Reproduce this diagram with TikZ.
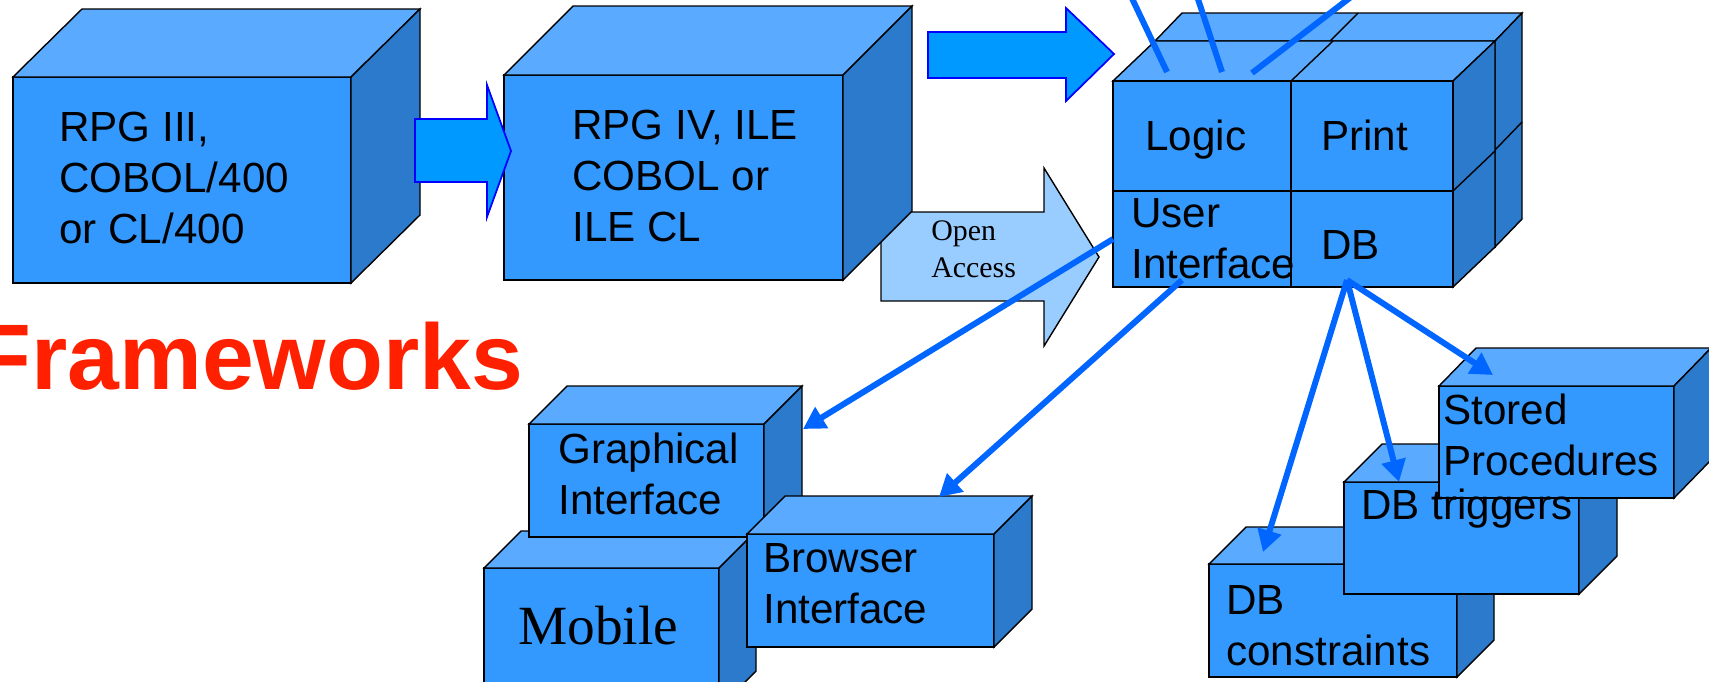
\documentclass[tikz,border=0pt]{standalone}
\usepackage{fontspec}
\setmainfont{Liberation Sans}
\newfontfamily\timesfont{Liberation Serif}
\usetikzlibrary{arrows.meta,calc}
\definecolor{frontblue}{RGB}{51,153,255}
\definecolor{topblue}{RGB}{90,170,255}
\definecolor{sideblue}{RGB}{43,122,204}
\definecolor{arrowfill}{RGB}{0,153,255}
\definecolor{wireblue}{RGB}{0,102,255}
\definecolor{openfill}{RGB}{153,204,255}
\definecolor{fwred}{RGB}{255,32,0}
% name, x, y (front top left), width, height, depth x, depth y
\newcommand{\drawcube}[7]{%
  \node[frontface,minimum width={#4*0.02cm},minimum height={#5*0.02cm},anchor=north west] (#1) at (#2,#3) {};
  \filldraw[topface] (#1.north west) -- ++(#6,#7) -- ++(#4,0) -- (#1.north east) -- cycle;
  \filldraw[sideface] (#1.north east) -- ++(#6,#7) -- ++(0,#5) -- (#1.south east) -- cycle;
}

\begin{document}
\begin{tikzpicture}[x=0.02cm,y=-0.02cm,line join=miter,
    frontface/.style={draw=black,fill=frontblue,line width=0.8pt,inner sep=0pt,outer sep=0pt},
    topface/.style={draw=black,fill=topblue,line width=0.8pt},
    sideface/.style={draw=black,fill=sideblue,line width=0.8pt},
    blockarrow/.style={draw=blue,fill=arrowfill,line width=1pt},
    openarrow/.style={draw=black,fill=openfill,line width=0.8pt},
    wire/.style={draw=wireblue,line width=3.4pt},
    lbl/.style={font=\fontsize{24}{29}\selectfont,anchor=base west,align=left,inner sep=0pt}]
  \useasboundingbox (0,0) rectangle (1709,681);
  \clip (0,0) rectangle (1709,681);

  % open access arrow sits behind the ILE box
  \filldraw[openarrow] (881,212) -- (1044,212) -- (1044,168) -- (1099,257) -- (1044,346) -- (1044,301) -- (881,301) -- cycle;
  \drawcube{old}{13}{77}{338}{206}{69}{-68}
  \drawcube{ile}{504}{75}{339}{205}{69}{-69}
  \filldraw[blockarrow] (415,119) -- (487,119) -- (487,85) -- (511,151) -- (487,217) -- (487,182) -- (415,182) -- cycle;
  \filldraw[blockarrow] (928,32) -- (1066,32) -- (1066,8) -- (1114,54) -- (1066,101) -- (1066,78) -- (928,78) -- cycle;
  % multi-line labels sit on the baseline of their last line
  \node[lbl] (oldtxt) at (59,243) {RPG III,\\COBOL/400\\or CL/400};
  \node[lbl] (iletxt) at (572,241) {RPG IV, ILE\\COBOL or\\ILE CL};
  \node[lbl,font=\timesfont\fontsize{17}{21}\selectfont] (opentxt) at (931,277) {Open\\Access};

  % layered block: back layer, then front layer with four cells
  \drawcube{back}{1155}{41}{340}{206}{27}{-28}
  \draw[line width=0.8pt] (1330,41) -- (1358,13) (1495,150) -- (1522,122);
  \drawcube{layer}{1113}{81}{340}{206}{42}{-40}
  \draw[line width=0.8pt] (1291,81) -- (1333,41) (1453,191) -- (1495,151);
  \node[frontface,minimum width={178*0.02cm},minimum height={110*0.02cm},anchor=north west] (logic) at (1113,81) {};
  \node[frontface,minimum width={162*0.02cm},minimum height={110*0.02cm},anchor=north west] (print) at (1291,81) {};
  \node[frontface,minimum width={178*0.02cm},minimum height={96*0.02cm},anchor=north west] (ui) at (1113,191) {};
  \node[frontface,minimum width={162*0.02cm},minimum height={96*0.02cm},anchor=north west] (db) at (1291,191) {};
  \node[lbl] (logictxt) at (1145,150) {Logic};
  \node[lbl] (printtxt) at (1321,150) {Print};
  \node[lbl] (uitxt) at (1131,278) {User\\Interface};
  \node[lbl] (dbtxt) at (1321,259) {DB};

  % interface boxes
  \drawcube{mob}{484}{568}{235}{140}{37}{-37}
  \drawcube{gui}{529}{424}{235}{113}{38}{-38}
  \drawcube{web}{747}{534}{247}{113}{38}{-38}
  \node[lbl,font=\timesfont\fontsize{31.5}{36}\selectfont] (mobtxt) at (518,644) {Mobile};
  \node[lbl] (guitxt) at (558,514) {Graphical\\Interface};
  \node[lbl] (webtxt) at (763,623) {Browser\\Interface};

  % database boxes
  \drawcube{cons}{1209}{564}{248}{113}{37}{-37}
  \drawcube{trig}{1344}{482}{235}{112}{38}{-38}
  \drawcube{proc}{1439}{386}{235}{112}{37}{-38}
  \node[lbl] (constxt) at (1226,665) {DB\\constraints};
  \node[lbl] (trigtxt) at (1361,519) {DB triggers};
  \node[lbl] (proctxt) at (1443,475) {Stored\\Procedures};

  \node[font=\fontsize{53}{60}\selectfont\bfseries,text=fwred,anchor=base west,inner sep=0pt] (fw) at (-26,389) {Frameworks};

  % connectors
  \coordinate (uiout) at (1182,280);
  \coordinate (dbout) at (1347,280);
  \coordinate (guiin) at (803,429);
  \coordinate (webin) at (939,497);
  \coordinate (consin) at (1263,552);
  \coordinate (trigin) at (1399,482);
  \coordinate (procin) at (1493,375);
  \foreach \a/\b in {ui.west/guiin,uiout/webin,dbout/consin,dbout/trigin,dbout/procin}
    \draw[wire,-{Triangle[length=12.5pt,width=13.5pt]}] (\a) -- (\b);
  % lines coming in from above
  \coordinate (in1) at (1167,72);
  \coordinate (in2) at (1222,72);
  \coordinate (in3) at (1252,73);
  \coordinate (up1) at (1128,-10);
  \coordinate (up2) at (1195,-10);
  \coordinate (up3) at (1360,-10);
  \foreach \a/\b in {in1/up1,in2/up2,in3/up3}
    \draw[wire] (\a) -- (\b);
\end{tikzpicture}
\end{document}
